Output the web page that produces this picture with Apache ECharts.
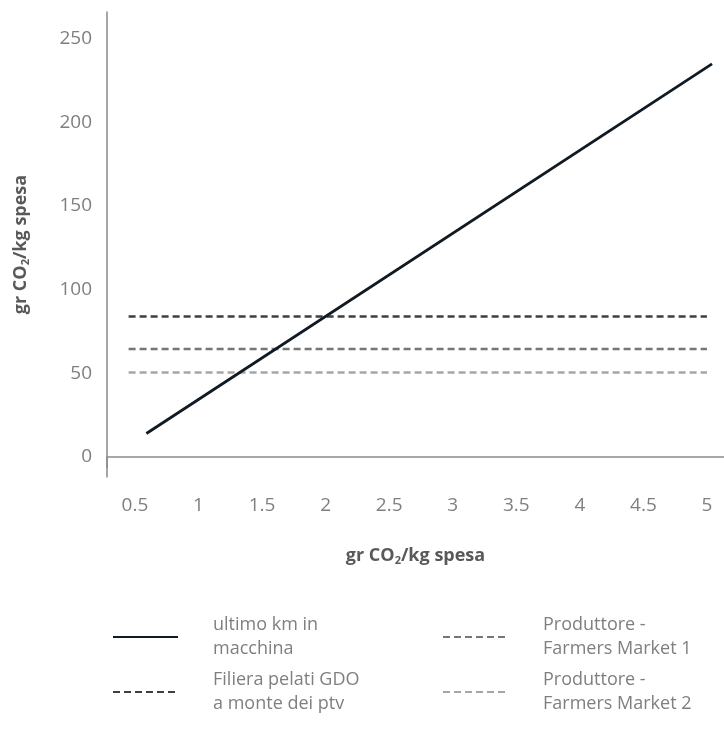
<!DOCTYPE html>
<html>
<head>
<meta charset="utf-8">
<script src="https://cdn.jsdelivr.net/npm/echarts@6/dist/echarts.min.js"></script>
<style>
html,body{margin:0;padding:0;background:#fff;}
#chart{width:724px;height:731px;}
</style>
</head>
<body>
<div id="chart"></div>
<script>
var xTicks = [0.5, 1, 1.5, 2, 2.5, 3, 3.5, 4, 4.5, 5];
var yTicks = [0, 50, 100, 150, 200, 250];

// ultimo km in macchina (straight line, two ends)
var carX = [0.59, 5.04];
var carY = [14, 235];

// flat reference lines
var flatX = [0.45, 5.0];
var gdoY = [84, 84];
var fm1Y = [64.5, 64.5];
var fm2Y = [50.5, 50.5];

var names = ['ultimo km in\nmacchina', 'Filiera pelati GDO\na monte dei ptv',
             'Produttore -\nFarmers Market 1', 'Produttore -\nFarmers Market 2'];

function pairs(xs, ys) {
    return xs.map(function (x, i) { return [x, ys[i]]; });
}

var chart = echarts.init(document.getElementById('chart'));
var font = '"Open Sans", Lato, sans-serif';
var titleStyle = {
    fontFamily: font, fontSize: 18, fontWeight: 'bold', color: '#595959',
    rich: { sub: { fontFamily: font, fontSize: 11, fontWeight: 'bold', color: '#595959', padding: [10, 0, 0, 0] } }
};
var legendText = {
    fontFamily: font, fontSize: 18, color: '#7f7f7f', lineHeight: 24,
    padding: [0, 0, 0, 30]
};

var option = {
    animation: false,
    grid: { left: 107, right: 0, top: 12, bottom: 254, containLabel: false },
    xAxis: {
        type: 'value',
        min: 0.28, max: 5.134,
        name: 'gr CO{sub|2}/kg spesa',
        nameLocation: 'middle',
        nameGap: 68,
        nameTextStyle: titleStyle,
        axisLine: { show: true, lineStyle: { color: '#8a8a8a', width: 1.5 } },
        axisTick: { show: true, customValues: [0.28], length: 11, lineStyle: { color: '#8a8a8a', width: 1.5 } },
        axisLabel: { customValues: xTicks, margin: 19, fontFamily: font, fontSize: 19, color: '#7f7f7f' },
        splitLine: { show: false }
    },
    yAxis: {
        type: 'value',
        min: -12, max: 266,
        name: 'gr CO{sub|2}/kg spesa',
        nameLocation: 'middle',
        nameGap: 76,
        nameTextStyle: titleStyle,
        axisLine: { show: true, lineStyle: { color: '#8a8a8a', width: 1.5 } },
        axisTick: { show: false },
        axisLabel: { customValues: yTicks, margin: 15, fontFamily: font, fontSize: 19, color: '#7f7f7f' },
        splitLine: { show: false }
    },
    legend: [
        {
            orient: 'vertical', left: 107, top: 608, itemWidth: 65, itemHeight: 14, itemGap: 7,
            itemStyle: { opacity: 0 },
            data: [names[0], names[1]], textStyle: legendText
        },
        {
            orient: 'vertical', left: 437, top: 608, itemWidth: 65, itemHeight: 14, itemGap: 7,
            itemStyle: { opacity: 0 },
            data: [names[2], names[3]], textStyle: legendText
        }
    ],
    series: [
        {
            name: names[3], type: 'line', symbol: 'none',
            data: pairs(flatX, fm2Y),
            lineStyle: { color: '#a6a6a6', width: 2.5, type: [7, 4] },
            itemStyle: { color: '#a6a6a6' }
        },
        {
            name: names[2], type: 'line', symbol: 'none',
            data: pairs(flatX, fm1Y),
            lineStyle: { color: '#767676', width: 2.5, type: [7, 4] },
            itemStyle: { color: '#767676' }
        },
        {
            name: names[1], type: 'line', symbol: 'none',
            data: pairs(flatX, gdoY),
            lineStyle: { color: '#3f3f3f', width: 2.5, type: [7, 4] },
            itemStyle: { color: '#3f3f3f' }
        },
        {
            name: names[0], type: 'line', symbol: 'none',
            data: pairs(carX, carY),
            lineStyle: { color: '#111a22', width: 2.8 },
            itemStyle: { color: '#111a22' }
        }
    ]
};

chart.setOption(option);
window.addEventListener('resize', function () {
    chart.resize();
});
</script>
</body>
</html>
